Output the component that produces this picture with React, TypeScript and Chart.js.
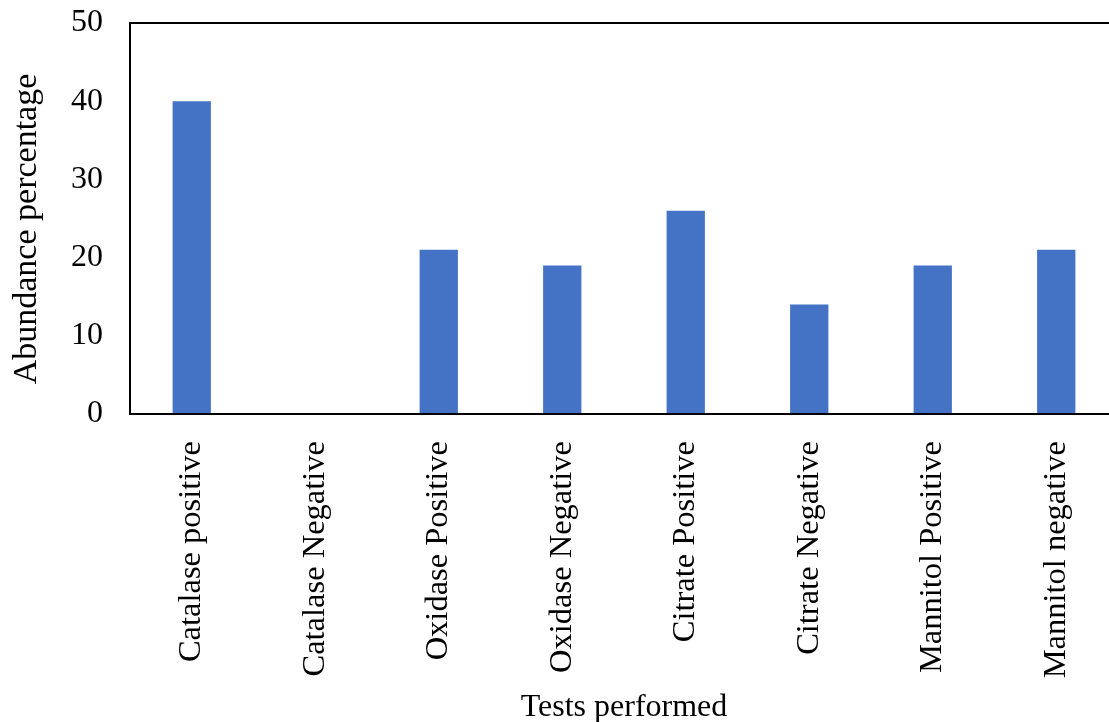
import React, { useEffect, useRef } from "react";
import { Chart, registerables } from "chart.js";

Chart.register(...registerables);

const categories = [
  "Catalase positive",
  "Catalase Negative",
  "Oxidase Positive",
  "Oxidase Negative",
  "Citrate Positive",
  "Citrate Negative",
  "Mannitol Positive",
  "Mannitol negative",
];
const abundance = [40, 0, 21, 19, 26, 14, 19, 21];
const yTicks = [0, 10, 20, 30, 40, 50];
const xTitle = "Tests performed";
const yTitle = "Abundance percentage";

const FONT = "'Liberation Serif', 'Times New Roman', serif";

const frame = {
  id: "frame",
  afterDraw(chart: any) {
    const { ctx, chartArea } = chart;
    ctx.save();
    ctx.strokeStyle = "#000";
    ctx.lineWidth = 2;
    ctx.strokeRect(chartArea.left, chartArea.top, chartArea.right - chartArea.left, chartArea.bottom - chartArea.top);
    // y axis title
    ctx.fillStyle = "#000";
    ctx.font = `34px ${FONT}`;
    ctx.textAlign = "center";
    ctx.textBaseline = "middle";
    ctx.translate(27, 229);
    ctx.rotate(-Math.PI / 2);
    ctx.fillText(yTitle, 0, 0);
    ctx.restore();
  },
};

export default function App() {
  const ref = useRef<HTMLCanvasElement>(null);
  useEffect(() => {
    if (!ref.current) return;
    const chart = new Chart(ref.current, {
      type: "bar",
      data: {
        labels: categories,
        datasets: [
          {
            data: abundance,
            backgroundColor: "#4472C4",
            barPercentage: 1,
            categoryPercentage: 0.31,
          },
        ],
      },
      options: {
        responsive: false,
        animation: false,
        layout: { padding: { top: 23, right: 2, left: 0, bottom: 0 } },
        plugins: { legend: { display: false }, tooltip: { enabled: false } },
        scales: {
          x: {
            grid: { display: false, drawTicks: false },
            border: { display: false },
            ticks: {
              color: "#000",
              font: { family: FONT, size: 32.5 },
              maxRotation: 90,
              minRotation: 90,
              padding: 27,
              autoSkip: false,
            },
            title: {
              display: true,
              text: xTitle,
              color: "#000",
              font: { family: FONT, size: 32 },
              padding: { top: 0, bottom: -5 },
            },
            afterFit(scale: any) {
              scale.height = 722 - 414;
              scale.paddingLeft = 0;
              scale.paddingRight = 0;
              scale.paddingTop = 0;
              scale.paddingBottom = 0;
            },
          },
          y: {
            min: 0,
            max: 50,
            afterBuildTicks(scale: any) {
              scale.ticks = yTicks.map((v) => ({ value: v }));
            },
            grid: { display: false, drawTicks: false },
            border: { display: false },
            ticks: {
              color: "#000",
              font: { family: FONT, size: 32 },
              padding: 27,
            },
            title: { display: false, text: yTitle },
            afterFit(scale: any) {
              scale.width = 130;
              scale.paddingLeft = 0;
              scale.paddingRight = 0;
              scale.paddingTop = 0;
              scale.paddingBottom = 0;
            },
          },
        },
      },
      plugins: [frame],
    });
    return () => chart.destroy();
  }, []);
  return (
    <div style={{ position: "fixed", left: 0, top: 0, width: 1109, height: 722, overflow: "hidden", background: "#fff" }}>
      <canvas ref={ref} width={1120} height={722} style={{ display: "block" }} />
    </div>
  );
}
